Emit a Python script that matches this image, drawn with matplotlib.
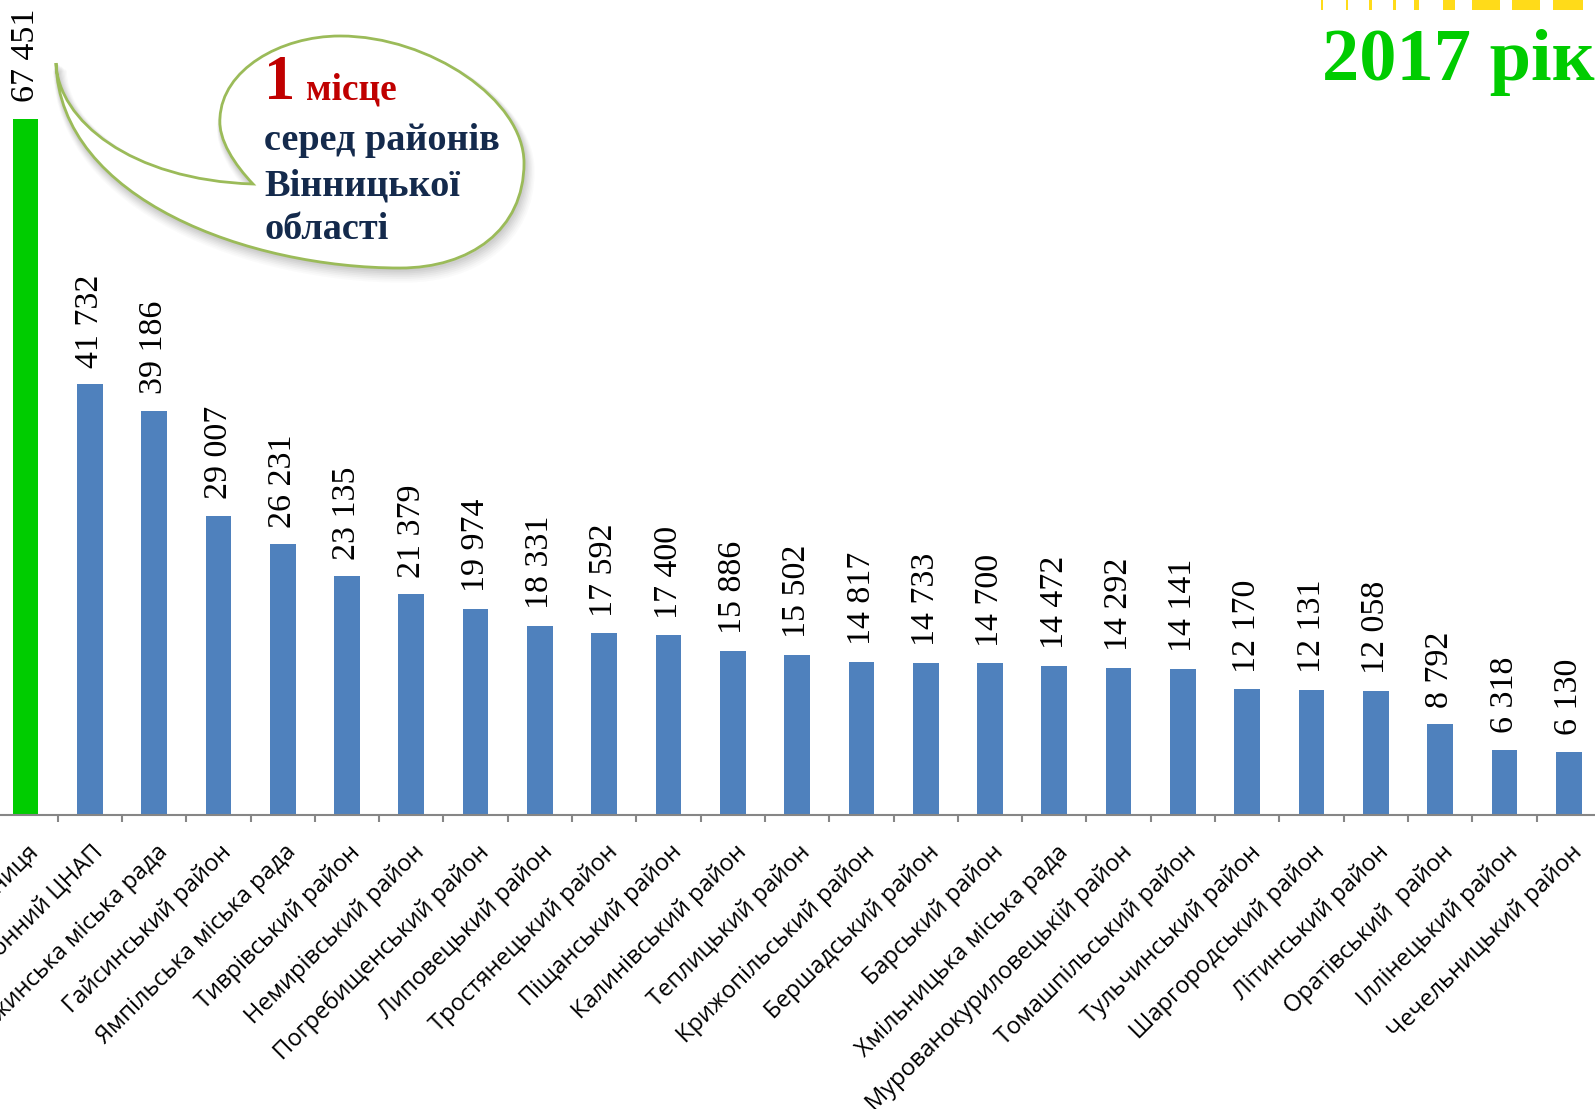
import matplotlib
matplotlib.use('Agg')
import matplotlib.pyplot as plt
import matplotlib.transforms as mtransforms
from matplotlib.path import Path
from matplotlib.patches import PathPatch, Rectangle
import numpy as np

# Кількість наданих послуг, 2017 рік
categories = [
    'м. Вінниця', 'Районний ЦНАП', 'Ладижинська міська рада', 'Гайсинський район',
    'Ямпільська міська рада', 'Тиврівський район', 'Немирівський район',
    'Погребищенський район', 'Липовецький район', 'Тростянецький район',
    'Піщанський район', 'Калинівський район', 'Теплицький район',
    'Крижопільський район', 'Бершадський район', 'Барський район',
    'Хмільницька міська рада', 'Мурованокуриловецькій район',
    'Томашпільський район', 'Тульчинський район', 'Шаргородський район',
    'Літинський район', 'Оратівський  район', 'Іллінецький район',
    'Чечельницький район',
]
values = [67451, 41732, 39186, 29007, 26231, 23135, 21379, 19974, 18331, 17592,
          17400, 15886, 15502, 14817, 14733, 14700, 14472, 14292, 14141, 12170,
          12131, 12058, 8792, 6318, 6130]
highlight = 0

W, H = 1595, 1109
fig = plt.figure(figsize=(W / 100, H / 100), dpi=100)

# основна діаграма
ax = fig.add_axes([-6.65 / W, 1 - 815 / H, 1607.5 / W, 825.5 / H])
x = np.arange(len(values))
colors = ['#00CC00' if i == highlight else '#4F81BD' for i in x]
ax.bar(x, values, width=0.40, color=colors, zorder=2)
ax.set_xlim(-0.5, len(values) - 0.5)
ax.set_ylim(0, 80000)

for xi, v in zip(x, values):
    ax.annotate(f'{v:,}'.replace(',', ' '), (xi, v), xytext=(0, 12),
                textcoords='offset points', rotation=90, ha='center', va='bottom',
                fontsize=24.5, family=['Liberation Serif', 'DejaVu Serif'])

for side in ['top', 'right', 'left']:
    ax.spines[side].set_visible(False)
ax.spines['bottom'].set_color('#868686')
ax.spines['bottom'].set_linewidth(1.5)
ax.set_yticks([])

ax.set_xticks(x)
ax.set_xticks(np.arange(-0.5, len(values)), minor=True)
ax.tick_params(axis='x', which='major', length=0, pad=0)
ax.tick_params(axis='x', which='minor', length=5, width=1.5, color='#868686')
ax.set_xticklabels(categories, rotation=45, rotation_mode='anchor',
                   ha='right', va='center', fontsize=17,
                   family=['Open Sans', 'DejaVu Sans'])
shift = mtransforms.ScaledTranslation(0.10, -0.34, fig.dpi_scale_trans)
for lab in ax.get_xticklabels():
    lab.set_transform(lab.get_transform() + shift)

# шар для виноски та заголовка (координати в пікселях)
ov = fig.add_axes([0, 0, 1, 1], zorder=5)
ov.set_xlim(0, W)
ov.set_ylim(H, 0)
ov.axis('off')
ov.patch.set_alpha(0)

verts = [
    (56, 63), (58, 120), (130, 180), (253, 184),
    (235, 165), (218, 140), (220, 118),
    (222, 70), (280, 36), (340, 36),
    (430, 36), (524, 100), (524, 163),
    (524, 230), (470, 268), (400, 268),
    (250, 268), (60, 200), (56, 63),
]
codes = [Path.MOVETO] + [Path.CURVE4] * 18
bubble = Path(verts, codes)

# тінь виноски
for k, a in zip(range(8, 0, -1), [0.03, 0.04, 0.05, 0.06, 0.07, 0.08, 0.09, 0.10]):
    sh = Path(np.array(verts) + [k * 0.5, k], codes)
    ov.add_patch(PathPatch(sh, facecolor='none', edgecolor='#7F7F7F',
                           lw=k * 1.2, alpha=a))
ov.add_patch(PathPatch(bubble, facecolor='white', edgecolor='#9BBB59', lw=2))

serif = ['Liberation Serif', 'DejaVu Serif']
ov.text(264, 99, '1', color='#C00000', fontsize=45, fontweight='bold',
        family=serif, va='baseline')
ov.text(306, 99, 'місце', color='#C00000', fontsize=27, fontweight='bold',
        family=serif, va='baseline')
for txt, yb in [('серед районів', 150), ('Вінницької', 195), ('області', 239)]:
    ov.text(264, yb, txt, color='#142A4C', fontsize=27.5, fontweight='bold',
            family=serif, va='baseline')

# заголовок
ov.text(1322, 80, '2017 рік', color='#00CC00', fontsize=53.5, fontweight='bold',
        family=serif, va='baseline', clip_on=False)

# жовта смуга вгорі праворуч
for x0, w in [(1321, 2), (1346, 2), (1369, 3), (1393, 3), (1414, 5),
              (1443, 12), (1472, 28), (1512, 28), (1553, 30)]:
    ov.add_patch(Rectangle((x0, 0), w, 10, color='#FFD800', alpha=0.9, lw=0))

fig.savefig('out.png', dpi=100)
